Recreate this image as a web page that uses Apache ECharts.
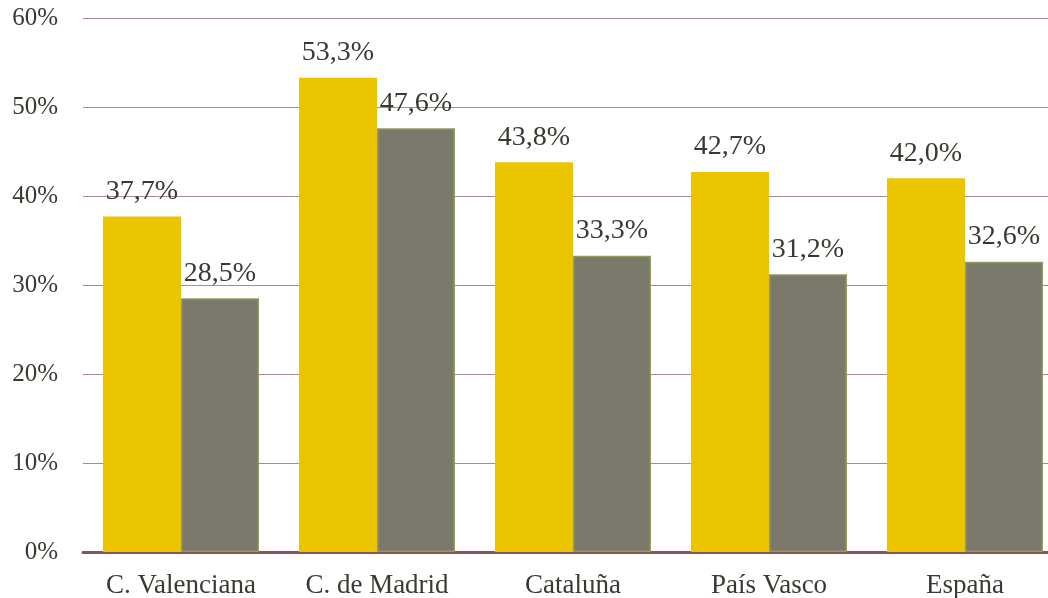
<!DOCTYPE html>
<html lang="es">
  <head>
    <meta charset="UTF-8" />
    <title>Comparativa por comunidades</title>
    <style>
      html,
      body {
        margin: 0;
        width: 100%;
        height: 100%;
        overflow: hidden;
        background: #fff;
      }
      #main {
        width: 1048px;
        height: 598px;
      }
    </style>
  </head>
  <body>
    <div id="main"></div>
    <script src="https://cdn.jsdelivr.net/npm/echarts@6/dist/echarts.min.js"></script>
    <script>
      // datos
      const regiones = ["C. Valenciana", "C. de Madrid", "Cataluña", "País Vasco", "España"];
      const serieAmarilla = [37.7, 53.3, 43.8, 42.7, 42.0];
      const serieGris = [28.5, 47.6, 33.3, 31.2, 32.6];

      const fuente = "'Liberation Serif', 'Times New Roman', serif";
      const fmt = (p) => p.value.toFixed(1).replace(".", ",") + "%";

      const etiqueta = {
        show: true,
        position: "top",
        distance: 11,
        formatter: fmt,
        fontFamily: fuente,
        fontSize: 28,
        color: "#3a3a32",
      };

      const option = {
        animation: false,
        // el área de trazado continúa un poco más allá del borde derecho
        grid: { left: 83, right: -15, top: 18, bottom: 46, outerBoundsMode: "none" },
        xAxis: {
          type: "category",
          data: regiones,
          axisTick: { show: false },
          axisLine: { lineStyle: { color: "#8b5457", width: 3 } },
          axisLabel: {
            interval: 0,
            fontFamily: fuente,
            fontSize: 27,
            color: "#3a3a32",
            margin: 20,
          },
        },
        yAxis: {
          type: "value",
          min: 0,
          max: 60,
          interval: 10,
          axisLine: { show: false },
          axisTick: { show: false },
          splitLine: { lineStyle: { color: "#a98a92", width: 1 } },
          axisLabel: {
            formatter: "{value}%",
            fontFamily: fuente,
            fontSize: 25,
            color: "#3a3a32",
            margin: 25,
          },
        },
        series: [
          {
            type: "bar",
            data: serieAmarilla,
            barGap: "0%",
            barCategoryGap: "20.4%",
            itemStyle: { color: "#ebc500" },
            label: etiqueta,
          },
          {
            type: "bar",
            data: serieGris,
            itemStyle: { color: "#7a796b", borderColor: "#8f9c5e", borderWidth: 1.5 },
            label: etiqueta,
          },
        ],
      };

      const chart = echarts.init(document.getElementById("main"));
      chart.setOption(option);
    </script>
  </body>
</html>
